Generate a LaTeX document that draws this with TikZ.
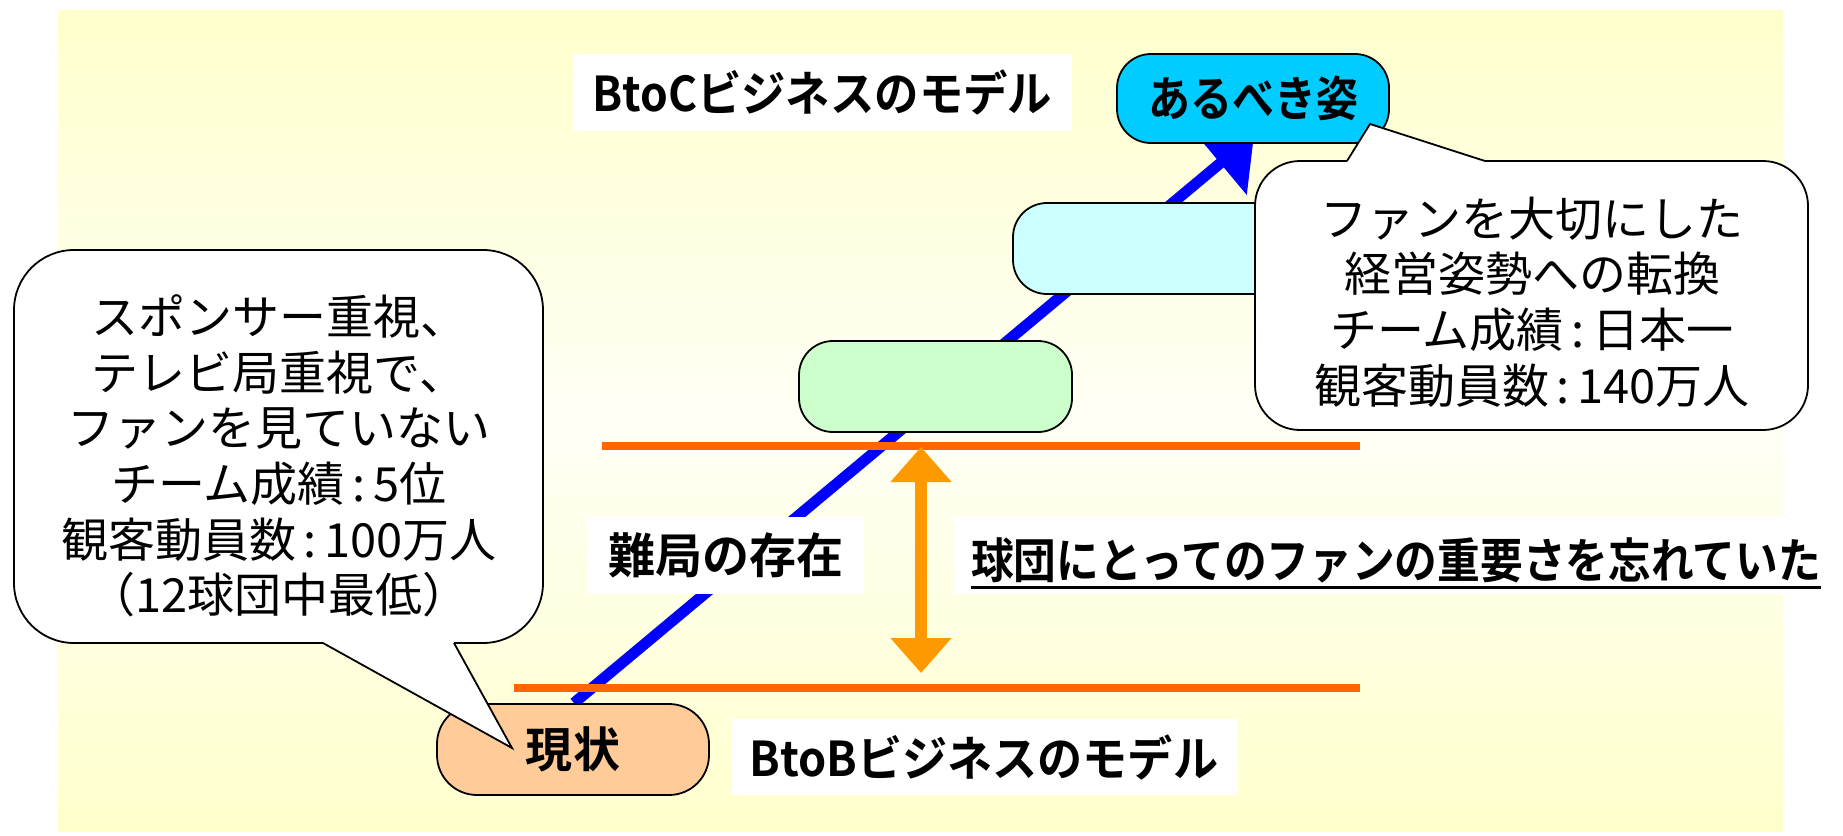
\documentclass[tikz,border=0pt]{standalone}
\usepackage{fontspec}
\usepackage{graphicx}
\setmainfont{Noto Sans CJK JP}[BoldFont={Noto Sans CJK JP Bold}]
\usetikzlibrary{arrows.meta}
\definecolor{bgy}{HTML}{FFFFCC}
\definecolor{bgmid}{HTML}{FFFFF6}
\definecolor{cyanbox}{HTML}{00CCFF}
\definecolor{lcyan}{HTML}{CCFFFF}
\definecolor{lgreen}{HTML}{CCFFCC}
\definecolor{peach}{HTML}{FFCC99}
\definecolor{orL}{HTML}{FF6600}
\definecolor{orA}{HTML}{FF9900}
\definecolor{bluA}{HTML}{0000FF}
\newcommand{\hs}[2]{\scalebox{#1}[1]{#2}}
\begin{document}
\begin{tikzpicture}[x=1pt,y=-1pt,
  boldtxt/.style={font=\fontsize{48}{52}\selectfont\bfseries},
  reg/.style={font=\fontsize{47}{55.7}\selectfont, align=center, inner sep=0pt},
  rbox/.style={draw=black, line width=1.8pt, rounded corners=34pt, inner sep=0pt, boldtxt},
  lbl/.style={fill=white, inner sep=0pt, boldtxt},
  bubble/.style={line width=1.8pt, draw=black}
]
\useasboundingbox (0,0) rectangle (1843,835);
\fill[white] (0,0) rectangle (1843,835);
\shade[top color=bgy, bottom color=bgy, middle color=bgmid] (58,10) rectangle (1783,831);

% blue arrow (behind the boxes)
\coordinate (bs) at (574,703);
\coordinate (bt) at (1254,135);
\draw[bluA, line width=11pt, -{Triangle[width=80pt,length=44pt]}] (bs) -- (bt);

% stage boxes
\node[rbox, fill=cyanbox, minimum width=272pt, minimum height=89pt] (goal) at (1253,98.5) {\hs{0.875}{あるべき姿}};
\node[rbox, fill=lcyan, minimum width=287pt, minimum height=91pt] (step2) at (1156.5,248.5) {};
\node[rbox, fill=lgreen, minimum width=273pt, minimum height=91pt] (step1) at (935.5,386.5) {};
\node[rbox, fill=peach, minimum width=272pt, minimum height=91pt, rounded corners=40pt] (now) at (573,749.5) {\hs{0.98}{現状}};

% orange lines
\coordinate (l1a) at (602,446); \coordinate (l1b) at (1360,446);
\coordinate (l2a) at (514,688); \coordinate (l2b) at (1360,688);
\draw[orL, line width=8pt] (l1a) -- (l1b);
\draw[orL, line width=8pt] (l2a) -- (l2b);
\coordinate (oa1) at (921,447); \coordinate (oa2) at (921,673);
\draw[orA, line width=12pt, {Triangle[width=59pt,length=35pt]}-{Triangle[width=59pt,length=35pt]}] (oa1) -- (oa2);

% white labels
\node[lbl, minimum width=499pt, minimum height=77pt] (btoc) at (822.5,92.5) {\hs{0.925}{BtoCビジネスのモデル}};
\node[lbl, minimum width=506pt, minimum height=76pt] (btob) at (984,757) {\hs{0.94}{BtoBビジネスのモデル}};
\node[lbl, minimum width=276pt, minimum height=77pt] (nankyoku) at (726,555.5) {\hs{0.98}{難局の存在}};
\node[fill=white, inner sep=0pt, minimum width=829pt, minimum height=77pt] (kbox) at (1368.5,555.5) {};
\node[boldtxt, inner sep=0pt, anchor=west] (kt) at (971,560) {\hs{0.89}{球団にとってのファンの重要さを忘れていた}};
\draw[line width=3pt] ([yshift=-9pt]kt.base west) -- ([yshift=-9pt]kt.base east);

% left callout
\fill[white, rounded corners=60pt] (14,250) rectangle (543,643);
\fill[white] (323,642) -- (512,748) -- (454,642) -- cycle;
\draw[bubble, rounded corners=60pt] (454,643) -- (543,643) -- (543,250) -- (14,250) -- (14,643) -- (323,643);
\draw[bubble, line join=miter] (323,643) -- (512,748) -- (454,643);
\node[reg] (ltext) at (279,456) {スポンサー重視、\\テレビ局重視で、\\ファンを見ていない\\チーム成績\,:\,5位\\観客動員数\,:\,100万人\\（12球団中最低）};

% right callout
\fill[white, rounded corners=45pt] (1255,161) rectangle (1808,430);
\fill[white] (1347,162) -- (1370,124) -- (1485,162) -- cycle;
\draw[bubble, rounded corners=45pt] (1485,161) -- (1808,161) -- (1808,430) -- (1255,430) -- (1255,161) -- (1347,161);
\draw[bubble, line join=miter] (1347,161) -- (1370,124) -- (1485,161);
\node[reg] (rtext) at (1532,302) {ファンを大切にした\\経営姿勢への転換\\チーム成績\,:\,日本一\\観客動員数\,:\,140万人};
\end{tikzpicture}
\end{document}
